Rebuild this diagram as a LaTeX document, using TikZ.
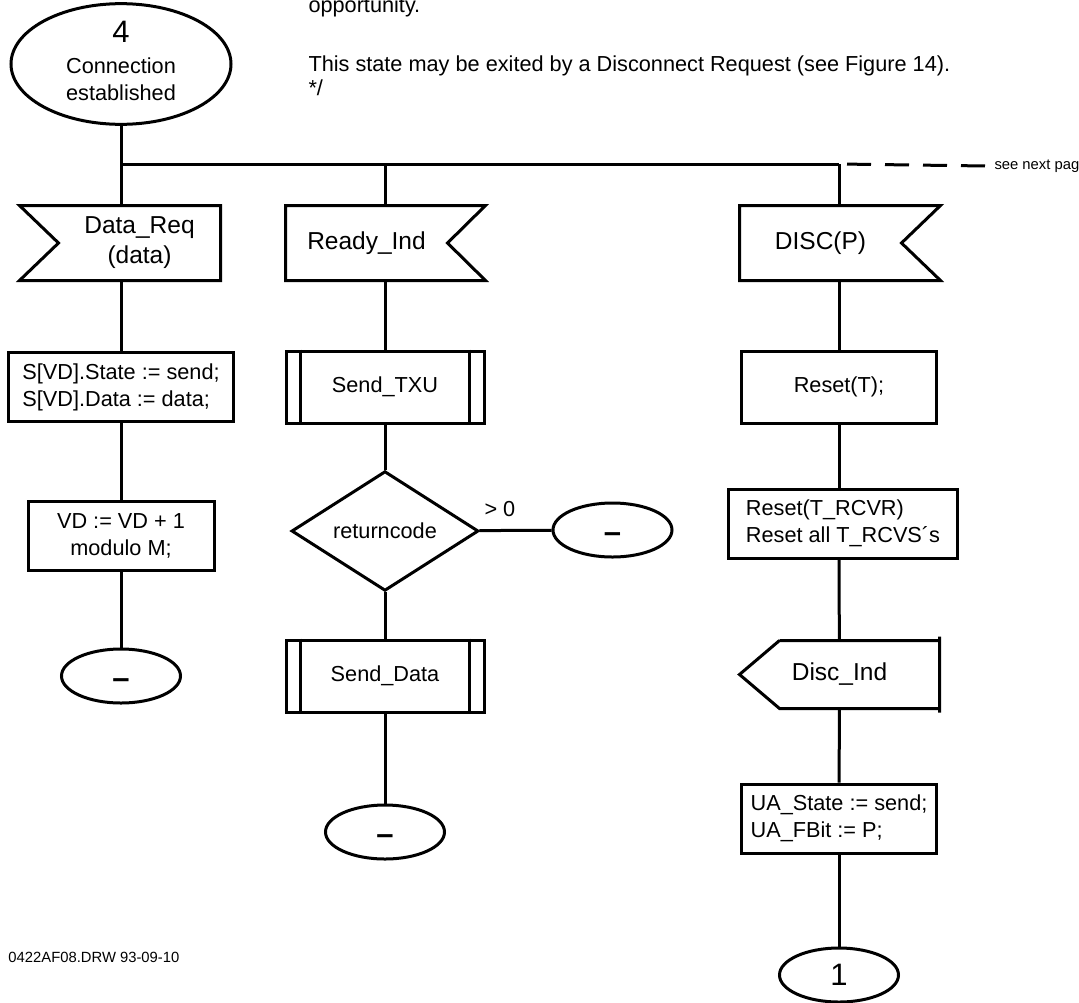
\documentclass[tikz,border=0pt]{standalone}
\usepackage{fontspec}
\setmainfont{Liberation Sans}
\usetikzlibrary{shapes.geometric}
\newcommand{\boxfont}{\fontsize{21.7}{27}\selectfont}
\newcommand{\sigfont}{\fontsize{24.5}{30}\selectfont}
\newcommand{\numfont}{\fontsize{31}{36}\selectfont}
\newcommand{\tinyfont}{\fontsize{14.8}{18}\selectfont}
\newcommand{\stopmark}{\raisebox{-0.4em}{–}}

\begin{document}
\begin{tikzpicture}[x=1pt, y=-1pt, line width=3pt, every node/.style={font=\boxfont},
	state/.style={ellipse, draw, minimum width=220pt, minimum height=114pt, inner sep=0pt, align=center},
	stopp/.style={ellipse, draw, minimum width=119pt, minimum height=54pt, inner sep=0pt},
	stopmk/.style={stopp, font=\bfseries\numfont, text height=0pt, text depth=0pt},
	task/.style={rectangle, draw, inner sep=0pt, minimum height=69pt},
	signal/.style={rectangle, inner sep=0pt, minimum width=159pt, minimum height=72pt, font=\sigfont, align=center},
	proc/.style={rectangle, draw, inner sep=0pt, minimum width=198pt, minimum height=72pt},
	decision/.style={diamond, draw, inner sep=0pt, minimum width=187pt, minimum height=91pt},
	note/.style={anchor=base west, inner sep=0pt}]
	\useasboundingbox (0,0) rectangle (1079,1002);
	\clip (0,0) rectangle (1079,1002);
	\node[note] at (307,12) {opportunity.};
	\node[note] at (307,71) {This state may be exited by a Disconnect Request (see Figure 14).};
	\node[note] at (307,95) {*/};
	\node[state] (st4) at (121,64) {{\numfont 4}\\[4pt]Connection\\established\rule[-6pt]{0pt}{0pt}};
	\coordinate (c1) at (121,164);
	\coordinate (c2) at (385,164);
	\coordinate (c3) at (839,164);
	\node[anchor=west, font=\tinyfont, inner sep=0pt] (see) at (993,166) {see next page};
	\draw (st4) -- (c1) -- (c3);
	\draw[dash pattern=on 24pt off 14pt, dash phase=30pt] (c3) -- ([xshift=-7pt]see.west);
	
	\node[signal] (dreq) at (139.5,243) {Data\_Req\\(data)};
	\draw (dreq.north east) -- (dreq.south east) -- ([xshift=-39pt]dreq.south west) -- (dreq.west) -- ([xshift=-39pt]dreq.north west) -- cycle;
	\node[signal] (rdy) at (366.5,243) {Ready\_Ind};
	\draw (rdy.north west) -- ([xshift=38pt]rdy.north east) -- (rdy.east) -- ([xshift=38pt]rdy.south east) -- (rdy.south west) -- cycle;
	\node[signal] (disc) at (820.5,243) {DISC(P)};
	\draw (disc.north west) -- ([xshift=39pt]disc.north east) -- (disc.east) -- ([xshift=39pt]disc.south east) -- (disc.south west) -- cycle;
	\draw (c1) -- (c1 |- dreq.north);
	\draw (c2) -- (c2 |- rdy.north);
	\draw (c3) -- (c3 |- disc.north);
	
	\node[task, minimum width=225pt, align=left] (act1) at (121,387) {S[VD].State := send;\\S[VD].Data := data;};
	\node[task, minimum width=186pt, align=center] (act2) at (121,536) {VD := VD + 1\\modulo M;};
	\node[stopmk] (stop1) at (121,676) {\stopmark};
	\draw (c1 |- dreq.south) -- (act1);
	\draw (act1) -- (act2);
	\draw (act2) -- (stop1);
	
	\node[proc] (txu) at (385,387) {Send\_TXU};
	\node[decision] (dec) at (385,531) {returncode};
	\node[anchor=south west, inner sep=0pt] (gt) at ([shift={(3pt,13pt)}]dec.east) {> 0};
	\node[stopmk] (stop3) at (612.5,530) {\stopmark};
	\node[proc] (sdata) at (385,676) {Send\_Data};
	\node[stopmk] (stop2) at (385,832) {\stopmark};
	\foreach \p in {txu, sdata} {
		\draw ([xshift=16pt]\p.north west) -- ([xshift=16pt]\p.south west);
		\draw ([xshift=-16pt]\p.north east) -- ([xshift=-16pt]\p.south east);
	}
	\draw (c2 |- rdy.south) -- (txu);
	\draw (txu) -- (dec);
	\draw (dec) -- (stop3);
	\draw (dec) -- (sdata);
	\draw (sdata) -- (stop2);
	
	\node[task, minimum width=195pt, minimum height=72pt] (rst) at (839,387) {Reset(T);};
	\node[task, minimum width=229pt, align=left] (rst2) at (843,523.5) {Reset(T\_RCVR)\\Reset all T\_RCVS´s};
	\node[rectangle, inner sep=0pt, minimum width=197pt, minimum height=65pt, font=\sigfont] (dind) at (839.5,674.5) {Disc\_Ind};
	\draw ([xshift=40pt]dind.north west) -- (dind.west) -- ([xshift=40pt]dind.south west) -- (dind.south east)
		([xshift=40pt]dind.north west) -- (dind.north east) ([yshift=4pt]dind.north east) -- ([yshift=-4pt]dind.south east);
	\node[task, minimum width=195pt, align=left] (ua) at (839,818.5) {UA\_State := send;\\UA\_FBit := P;};
	\node[stopp, font=\numfont] (con1) at (839,975) {1};
	\draw (c3 |- disc.south) -- (rst);
	\draw (rst) -- (rst.south |- rst2.north);
	\draw (rst.south |- rst2.south) -- (dind);
	\draw (dind) -- (ua);
	\draw (ua) -- (con1);
	
	\node[anchor=west, font=\tinyfont, inner sep=0pt] at (7,957) {0422AF08.DRW 93-09-10};
\end{tikzpicture}
\end{document}
